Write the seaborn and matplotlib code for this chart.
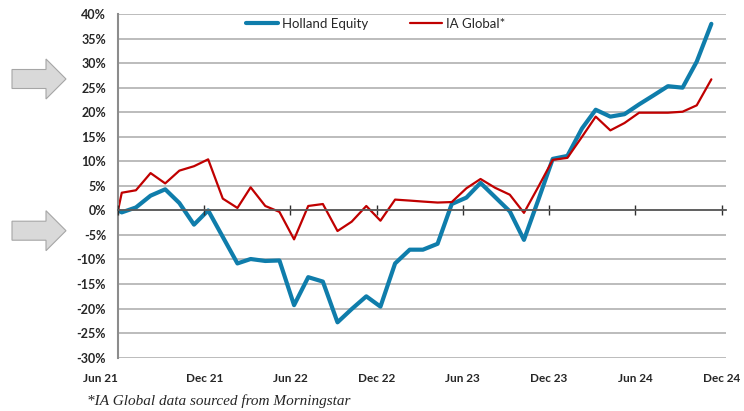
import matplotlib
matplotlib.use("Agg")
import numpy as np
import pandas as pd
import matplotlib.pyplot as plt
from matplotlib.patches import Polygon
import seaborn as sns

# start point, then one value per month
START_DATE = "2021-06-01"
FIRST_MONTH = "2021-06-09"
N_MONTHS = 42

HOLLAND = [0.0, -0.4, 0.6, 3.0, 4.3, 1.5, -2.9, 0.0, -5.4, -10.8,
           -9.9, -10.3, -10.2, -19.3, -13.6, -14.5, -22.8, -20.1, -17.5, -19.6,
           -10.8, -8.0, -8.0, -6.8, 1.3, 2.6, 5.6, 2.7, -0.2, -6.0,
           2.3, 10.5, 11.1, 16.7, 20.5, 19.1, 19.6, 21.6, 23.4, 25.3,
           25.0, 30.3, 38.0]
IA_GLOBAL = [0.0, 3.6, 4.1, 7.6, 5.5, 8.1, 9.0, 10.4, 2.4, 0.5,
             4.7, 0.9, -0.3, -5.9, 0.9, 1.3, -4.2, -2.3, 0.9, -2.1,
             2.2, 2.0, 1.8, 1.6, 1.7, 4.5, 6.4, 4.6, 3.2, -0.5,
             4.9, 10.3, 10.7, 15.0, 19.1, 16.3, 17.8, 19.9, 19.9, 19.9,
             20.1, 21.4, 26.7]

TICK_DATES = ["2021-06-01", "2021-12-01", "2022-06-01", "2022-12-01",
              "2023-06-01", "2023-12-01", "2024-06-01", "2024-12-01"]
TICK_LABELS = ["Jun 21", "Dec 21", "Jun 22", "Dec 22",
               "Jun 23", "Dec 23", "Jun 24", "Dec 24"]
Y_TICKS = list(range(-30, 41, 5))

BLUE = "#0f7dab"
RED = "#c00000"

dates = [pd.Timestamp(START_DATE)] + list(
    pd.date_range(FIRST_MONTH, periods=N_MONTHS, freq=pd.DateOffset(months=1)))
df = pd.DataFrame({
    "date": dates * 2,
    "value": HOLLAND + IA_GLOBAL,
    "series": ["Holland Equity"] * len(dates) + ["IA Global*"] * len(dates),
})

sns.set_style("white")
plt.rcParams["font.family"] = ["Lato", "DejaVu Sans"]

fig = plt.figure(figsize=(7.44, 4.11), dpi=100)
ax = fig.add_axes([0.1586, 0.1297, 0.8172, 0.8362])

sns.lineplot(data=df[df.series == "Holland Equity"], x="date", y="value",
             color=BLUE, linewidth=3.0, label="Holland Equity", ax=ax)
sns.lineplot(data=df[df.series == "IA Global*"], x="date", y="value",
             color=RED, linewidth=1.6, label="IA Global*", ax=ax)

ax.set_xlim(pd.Timestamp("2021-06-01"), pd.Timestamp("2024-12-10"))
ax.set_ylim(-30, 40)
ax.set_xlabel("")
ax.set_ylabel("")

ax.set_yticks(Y_TICKS)
ax.set_yticklabels([f"{v}%" for v in Y_TICKS], fontweight="bold", fontsize=9)
ax.yaxis.grid(True, color="#b0b0b0", linewidth=1.2)
ax.set_axisbelow(True)
ax.tick_params(axis="y", length=0, pad=8.5)

ax.set_xticks(pd.to_datetime(TICK_DATES))
ax.set_xticklabels(TICK_LABELS, fontweight="bold", fontsize=8.5)
ax.tick_params(axis="x", length=0, pad=11)
ax.get_xticklabels()[0].set_horizontalalignment("right")

for side in ["top", "right", "bottom"]:
    ax.spines[side].set_visible(False)
ax.spines["left"].set_color("#8c8c8c")
ax.spines["left"].set_linewidth(1.5)

# zero line with tick marks
ax2 = ax.twiny()
ax2.set_xlim(ax.get_xlim())
ax2.set_xticks(ax.get_xticks())
for side in ["top", "right", "left"]:
    ax2.spines[side].set_visible(False)
ax2.spines["bottom"].set_position(("data", 0))
ax2.spines["bottom"].set_color("#5a5a5a")
ax2.spines["bottom"].set_linewidth(1.3)
ax2.xaxis.set_ticks_position("bottom")
ax2.tick_params(axis="x", direction="inout", length=7, width=1, color="#303030",
                labelbottom=False, labeltop=False)

leg = ax.legend(loc="center", bbox_to_anchor=(0.4235, 0.971), ncol=2,
                frameon=False, fontsize=9.5, handlelength=2.4,
                columnspacing=3.2, handletextpad=0.3)

# gray block arrows on the left
def block_arrow(yc):
    W, H = 744, 411
    pts = [(12, yc - 9.5), (46, yc - 9.5), (46, yc - 20), (66, yc),
           (46, yc + 20), (46, yc + 9.5), (12, yc + 9.5)]
    pts = [(x / W, 1 - y / H) for x, y in pts]
    fig.patches.append(Polygon(pts, closed=True, transform=fig.transFigure,
                               facecolor="#d9d9d9", edgecolor="#a6a6a6", linewidth=0.8))

block_arrow(79)
block_arrow(230.7)

fig.text(87 / 744, 1 - 401 / 411, "*IA Global data sourced from Morningstar",
         family=["Liberation Serif"], style="italic", fontsize=11, va="center")

fig.savefig("out.png", dpi=100)
